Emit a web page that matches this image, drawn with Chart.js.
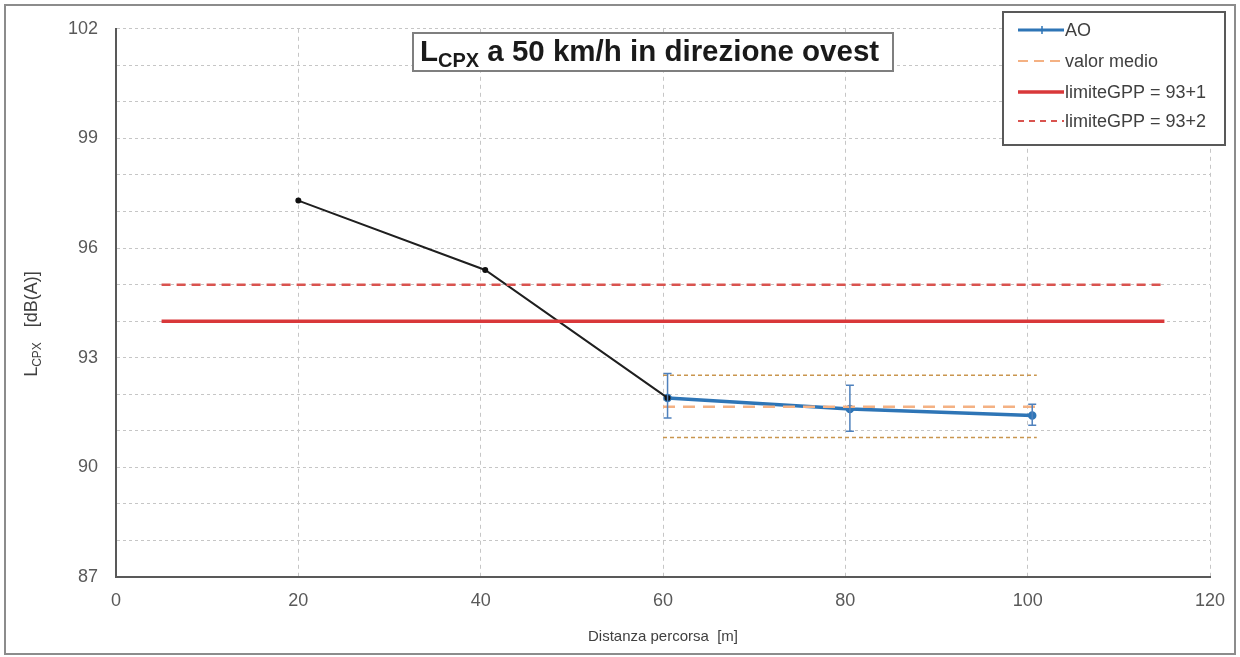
<!DOCTYPE html>
<html lang="it">
<head>
<meta charset="UTF-8">
<title>LCPX a 50 km/h in direzione ovest</title>
<script src="https://cdn.jsdelivr.net/npm/chart.js@4/dist/chart.umd.min.js"></script>
<style>
  html, body { margin: 0; padding: 0; background: #fff; }
  #wrap { width: 1240px; height: 657px; position: relative; }
</style>
</head>
<body>
<div id="wrap"><canvas id="chart" width="1240" height="657"></canvas></div>
<script>
// dati
const blackX = [20, 40.5, 60.5];
const blackY = [97.3, 95.4, 91.9];
const aoX = [60.5, 80.5, 100.5];
const aoY = [91.9, 91.6, 91.42];
const aoErrLow = [91.35, 90.99, 91.15];
const aoErrHigh = [92.57, 92.25, 91.73];
const medioX = [60, 101];
const medioY = 91.66;
const bandLow = 90.82;
const bandHigh = 92.52;
const limitX = [5, 115];
const limit1 = 94;
const limit2 = 95;
const yTicks = [87, 90, 93, 96, 99, 102];
const legendLabels = ['AO', 'valor medio', 'limiteGPP = 93+1', 'limiteGPP = 93+2'];

const FONT = '"Liberation Sans", Arial, sans-serif';
const pts = (xs, ys) => xs.map((x, i) => ({ x, y: Array.isArray(ys) ? ys[i] : ys }));

// barre d'errore, titolo, legenda e cornici
const extras = {
  id: 'extras',
  beforeDraw(chart) {
    const c = chart.ctx;
    c.save();
    c.fillStyle = '#fff';
    c.fillRect(0, 0, chart.width, chart.height);
    c.restore();
  },
  afterDatasetsDraw(chart) {
    const c = chart.ctx;
    const xs = chart.scales.x, ys = chart.scales.y;
    c.save();
    c.strokeStyle = '#4f81bd';
    c.lineWidth = 1.5;
    aoX.forEach((x, i) => {
      const px = xs.getPixelForValue(x);
      const t = ys.getPixelForValue(aoErrHigh[i]);
      const b = ys.getPixelForValue(aoErrLow[i]);
      c.beginPath();
      c.moveTo(px, t); c.lineTo(px, b);
      c.moveTo(px - 4, t); c.lineTo(px + 4, t);
      c.moveTo(px - 4, b); c.lineTo(px + 4, b);
      c.stroke();
    });
    c.restore();
  },
  afterDraw(chart) {
    const c = chart.ctx;
    c.save();
    // cornice esterna
    c.strokeStyle = '#8c8c8c';
    c.lineWidth = 2;
    c.strokeRect(5, 5, 1230, 649);

    // titolo
    c.fillStyle = '#fff';
    c.fillRect(413, 33, 480, 38);
    c.strokeStyle = '#7f7f7f';
    c.lineWidth = 2;
    c.strokeRect(413, 33, 480, 38);
    c.fillStyle = '#1a1a1a';
    c.textBaseline = 'alphabetic';
    c.textAlign = 'left';
    let tx = 420;
    c.font = 'bold 29.5px ' + FONT;
    c.fillText('L', tx, 61);
    tx += c.measureText('L').width;
    c.font = 'bold 20px ' + FONT;
    c.fillText('CPX', tx, 67);
    tx += c.measureText('CPX').width;
    c.font = 'bold 29.5px ' + FONT;
    c.fillText(' a 50 km/h in direzione ovest', tx, 61);

    // titolo asse y
    c.save();
    c.translate(37, 324);
    c.rotate(-Math.PI / 2);
    c.fillStyle = '#404040';
    const p1 = 'L', p2 = 'CPX', p3 = '   [dB(A)]';
    c.font = '18px ' + FONT;
    const w1 = c.measureText(p1).width, w3 = c.measureText(p3).width;
    c.font = '12px ' + FONT;
    const w2 = c.measureText(p2).width;
    let lx = -(w1 + w2 + w3) / 2;
    c.font = '18px ' + FONT;
    c.fillText(p1, lx, 0); lx += w1;
    c.font = '12px ' + FONT;
    c.fillText(p2, lx, 4); lx += w2;
    c.font = '18px ' + FONT;
    c.fillText(p3, lx, 0);
    c.restore();

    // legenda
    c.fillStyle = '#fff';
    c.fillRect(1003, 12, 222, 133);
    c.strokeStyle = '#595959';
    c.lineWidth = 2;
    c.strokeRect(1003, 12, 222, 133);
    const ly = [30, 61, 92, 121];
    const styles = [
      { color: '#2e75b6', w: 3, dash: [] },
      { color: '#f4b183', w: 2, dash: [10, 6] },
      { color: '#d9383a', w: 3.5, dash: [] },
      { color: '#d9534f', w: 2, dash: [6, 5] }
    ];
    legendLabels.forEach((lab, i) => {
      const s = styles[i];
      c.strokeStyle = s.color;
      c.lineWidth = s.w;
      c.setLineDash(s.dash);
      c.beginPath();
      c.moveTo(1018, ly[i]); c.lineTo(1064, ly[i]);
      c.stroke();
      c.setLineDash([]);
      if (i === 0) {
        c.lineWidth = 1.5;
        c.beginPath();
        c.moveTo(1042, ly[i] - 4); c.lineTo(1042, ly[i] + 4);
        c.stroke();
      }
      c.fillStyle = '#404040';
      c.font = '18px ' + FONT;
      c.textBaseline = 'middle';
      c.fillText(lab, 1065, ly[i] + 1);
    });
    c.restore();
  }
};

new Chart(document.getElementById('chart'), {
  type: 'line',
  data: {
    datasets: [
      {
        label: 'limiteGPP = 93+2',
        data: pts(limitX, limit2),
        borderColor: '#d9534f', borderWidth: 2.5, borderDash: [9, 6],
        pointRadius: 0
      },
      {
        label: 'limiteGPP = 93+1',
        data: pts(limitX, limit1),
        borderColor: '#d9383a', borderWidth: 3.5,
        pointRadius: 0
      },
      {
        label: 'max',
        data: pts(medioX, bandHigh),
        borderColor: '#c9964f', borderWidth: 1.5, borderDash: [4, 3],
        pointRadius: 0
      },
      {
        label: 'min',
        data: pts(medioX, bandLow),
        borderColor: '#c9964f', borderWidth: 1.5, borderDash: [4, 3],
        pointRadius: 0
      },
      {
        label: 'valor medio',
        data: pts(medioX, medioY),
        borderColor: '#f4b183', borderWidth: 2.5, borderDash: [12, 8],
        pointRadius: 0
      },
      {
        label: 'percorso',
        data: pts(blackX, blackY),
        borderColor: '#1f1f1f', borderWidth: 2,
        pointRadius: 2, pointBackgroundColor: '#111', pointBorderColor: '#111'
      },
      {
        label: 'AO',
        data: pts(aoX, aoY),
        borderColor: '#2e75b6', borderWidth: 3.5,
        pointRadius: 2.5, pointBackgroundColor: '#2e75b6', pointBorderColor: '#2e75b6'
      }
    ]
  },
  options: {
    responsive: false,
    animation: false,
    layout: { padding: { top: 28, right: 30, bottom: 0, left: 0 } },
    plugins: {
      legend: { display: false },
      tooltip: { enabled: false }
    },
    scales: {
      x: {
        type: 'linear',
        min: 0, max: 120,
        ticks: {
          stepSize: 20,
          color: '#595959',
          padding: 13,
          font: { family: FONT, size: 18 }
        },
        grid: { color: '#c6c6c6', drawTicks: false },
        border: { color: '#595959', width: 2, dash: [4, 4] },
        title: {
          display: true,
          text: 'Distanza percorsa  [m]',
          color: '#404040',
          font: { family: FONT, size: 15 },
          padding: { top: 0, bottom: 11 }
        },
        afterFit(scale) { scale.height = 80; }
      },
      y: {
        min: 87, max: 102,
        ticks: {
          stepSize: 1,
          color: '#595959',
          padding: 18,
          font: { family: FONT, size: 18 },
          callback: v => yTicks.includes(v) ? v : ''
        },
        grid: { color: '#c6c6c6', drawTicks: false },
        border: { color: '#595959', width: 2, dash: [3, 3] },
        afterFit(scale) { scale.width = 116; }
      }
    }
  },
  plugins: [extras]
});
</script>
</body>
</html>
